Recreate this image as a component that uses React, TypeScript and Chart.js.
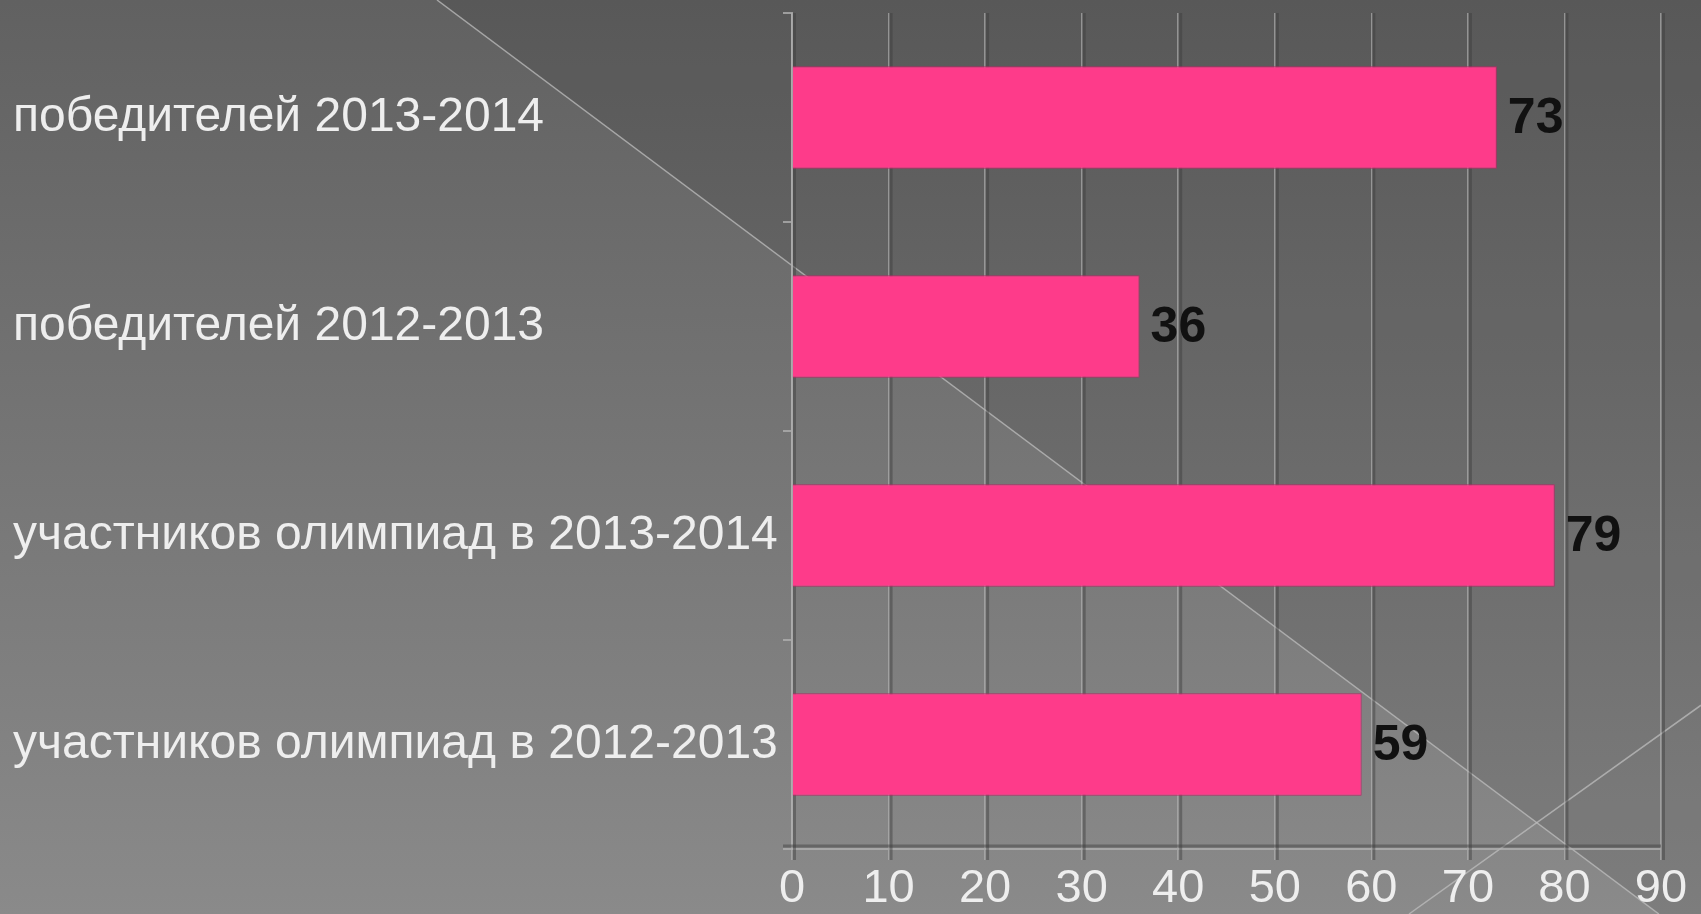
import React, { useEffect, useRef } from "react";
import { Chart, registerables } from "chart.js";

Chart.register(...registerables);

const categories: string[] = [
  "победителей 2013-2014",
  "победителей 2012-2013",
  "участников олимпиад в 2013-2014",
  "участников олимпиад в 2012-2013",
];
const values: number[] = [73, 36, 79, 59];
const xMin = 0;
const xMax = 90;
const xStep = 10;

const FONT = "'Liberation Sans', Arial, sans-serif";

const backgroundPlugin = {
  id: "slideBackground",
  beforeDraw(chart: any) {
    const { ctx, width, height } = chart;
    ctx.save();
    const g = ctx.createLinearGradient(0, 0, 0, height);
    g.addColorStop(0, "#616161");
    g.addColorStop(1, "#8a8a8a");
    ctx.fillStyle = g;
    ctx.fillRect(0, 0, width, height);
    ctx.beginPath();
    ctx.moveTo(437, 0);
    ctx.lineTo(width, 0);
    ctx.lineTo(width, 0.748 * (width - 437));
    ctx.closePath();
    ctx.fillStyle = "rgba(0,0,0,0.09)";
    ctx.fill();
    ctx.strokeStyle = "rgba(190,190,190,0.75)";
    ctx.lineWidth = 1.5;
    ctx.beginPath();
    ctx.moveTo(437, 0);
    ctx.lineTo(437 + height / 0.748, height);
    ctx.stroke();
    ctx.beginPath();
    ctx.moveTo(1409, height);
    ctx.lineTo(width, height - (width - 1409) * 0.715);
    ctx.stroke();
    ctx.restore();
  },
};

// dark shadow next to each vertical grid line (styling only)
const gridShadowPlugin = {
  id: "gridShadow",
  beforeDatasetsDraw(chart: any) {
    const { ctx, chartArea } = chart;
    const xs = chart.scales.x;
    ctx.save();
    ctx.strokeStyle = "rgba(60,60,60,0.45)";
    ctx.lineWidth = 3;
    xs.ticks.forEach((t: any) => {
      const px = xs.getPixelForValue(t.value) + 2.5;
      ctx.beginPath();
      ctx.moveTo(px, chartArea.top);
      ctx.lineTo(px, chartArea.bottom + 11);
      ctx.stroke();
    });
    ctx.beginPath();
    ctx.moveTo(chartArea.left - 9, chartArea.bottom - 3);
    ctx.lineTo(chartArea.right, chartArea.bottom - 3);
    ctx.stroke();
    ctx.restore();
  },
};

const valueLabelPlugin = {
  id: "valueLabels",
  afterDatasetsDraw(chart: any) {
    const { ctx } = chart;
    ctx.save();
    ctx.font = `bold 50px ${FONT}`;
    ctx.fillStyle = "#111111";
    ctx.textAlign = "left";
    ctx.textBaseline = "middle";
    chart.data.datasets.forEach((ds: any, di: number) => {
      const meta = chart.getDatasetMeta(di);
      meta.data.forEach((el: any, i: number) => {
        ctx.fillText(String(ds.data[i]), el.x + 11, el.y + 2);
      });
    });
    ctx.restore();
  },
};

export default function App() {
  const ref = useRef<HTMLCanvasElement | null>(null);
  useEffect(() => {
    document.body.style.margin = "0";
    const canvas = ref.current!;
    const chart = new Chart(canvas, {
      type: "bar",
      data: {
        labels: categories,
        datasets: [
          {
            data: values,
            backgroundColor: "#FE3B8A",
            borderColor: "#b52d68",
            borderWidth: 1,
            categoryPercentage: 1,
            barPercentage: 0.49,
          },
        ],
      },
      options: {
        indexAxis: "y",
        responsive: false,
        animation: false,
        devicePixelRatio: 1,
        layout: { padding: { left: 13, top: 13, right: 40, bottom: 0 } },
        plugins: {
          legend: { display: false },
          tooltip: { enabled: false },
        },
        scales: {
          x: {
            type: "linear",
            min: xMin,
            max: xMax,
            ticks: {
              stepSize: xStep,
              color: "#eeeeee",
              font: { family: FONT, size: 47 },
              padding: 1,
            },
            grid: {
              color: "rgba(180,180,180,0.65)",
              lineWidth: 1.5,
              tickLength: 11,
            },
            border: { display: true, color: "rgba(175,175,175,0.8)", width: 2 },
            afterFit(scale: any) {
              scale.height = 65;
            },
          },
          y: {
            type: "category",
            ticks: {
              color: "#eeeeee",
              font: { family: FONT, size: 48 },
              crossAlign: "far",
              padding: 0,
            },
            grid: {
              offset: true,
              drawOnChartArea: false,
              color: "rgba(175,175,175,0.8)",
              lineWidth: 2,
              tickLength: 9,
            },
            border: { display: true, color: "rgba(175,175,175,0.8)", width: 2 },
            afterFit(scale: any) {
              scale.width = 779;
              scale.paddingTop = 0;
              scale.paddingBottom = 0;
            },
          },
        },
      },
      plugins: [backgroundPlugin, gridShadowPlugin, valueLabelPlugin],
    });
    return () => chart.destroy();
  }, []);
  return (
    <div style={{ position: "absolute", left: 0, top: 0, width: 1701, height: 914 }}>
      <canvas ref={ref} width={1701} height={914} />
    </div>
  );
}
